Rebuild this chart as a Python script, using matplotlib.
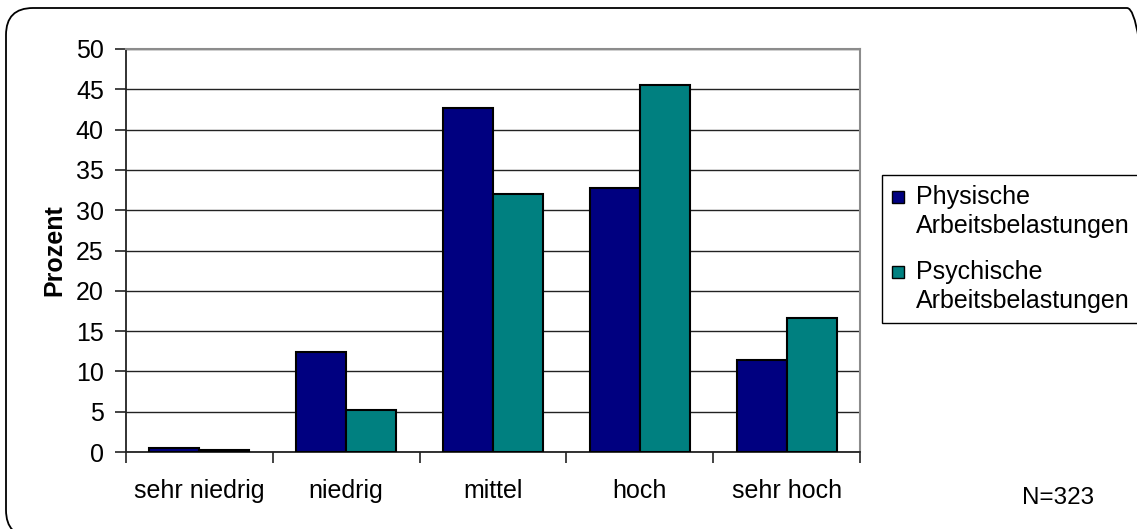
import matplotlib
matplotlib.use("Agg")
import matplotlib.pyplot as plt
from matplotlib.patches import FancyBboxPatch, Rectangle
from matplotlib.transforms import IdentityTransform
import numpy as np

plt.rcParams['font.family'] = ['Liberation Sans', 'DejaVu Sans']

categories = ["sehr niedrig", "niedrig", "mittel", "hoch", "sehr hoch"]
physisch = [0.5, 12.4, 42.7, 32.8, 11.4]
psychisch = [0.3, 5.2, 32.0, 45.5, 16.6]
series_labels = ["Physische\nArbeitsbelastungen", "Psychische\nArbeitsbelastungen"]
colors = ["#000080", "#008080"]
yticks = list(range(0, 51, 5))
note = "N=323"

W, H = 1137, 529
fig = plt.figure(figsize=(W / 100, H / 100), dpi=100)
fig.patch.set_facecolor("white")

# rounded outer frame, in pixel units
fx0, fy_top, fx1, fy_bot = 6, 8, 1154, 537
frame = FancyBboxPatch((fx0, H - fy_bot), fx1 - fx0, fy_bot - fy_top,
                       boxstyle="round,pad=0,rounding_size=27",
                       transform=IdentityTransform(), facecolor="none",
                       edgecolor="black", linewidth=1.3, clip_on=False)
fig.patches.append(frame)

ax = fig.add_axes([126 / W, (H - 452) / H, 734 / W, 403 / H])
x = np.arange(len(categories)) + 0.5
bw = 0.34
ax.bar(x - bw / 2, physisch, bw, color=colors[0], edgecolor="black", linewidth=1.5, zorder=3)
ax.bar(x + bw / 2, psychisch, bw, color=colors[1], edgecolor="black", linewidth=1.5, zorder=3)

ax.set_xlim(0, len(categories))
ax.set_ylim(0, 50)
ax.set_yticks(yticks)
ax.yaxis.grid(True, color="#222222", linewidth=1.0, zorder=0)
ax.set_axisbelow(True)

ax.set_xticks(x)
ax.set_xticklabels(categories, fontsize=18)
ax.set_xticks(np.arange(len(categories) + 1), minor=True)
ax.tick_params(axis="x", which="major", length=0, pad=19.5)
ax.tick_params(axis="x", which="minor", length=8, width=1.2, direction="out", color="#222222")
ax.tick_params(axis="y", length=8, width=1.2, direction="out", pad=8, labelsize=18, color="#222222")

for side in ["top", "right"]:
    ax.spines[side].set_color("#8c8c8c")
    ax.spines[side].set_linewidth(1.5)
for side in ["left", "bottom"]:
    ax.spines[side].set_color("#222222")
    ax.spines[side].set_linewidth(1.3)

ax.set_ylabel("Prozent", fontsize=18, fontweight="bold", labelpad=7)

# legend box
lx0, ly0, lx1, ly1 = 882, 175, 1150, 323
fig.patches.append(Rectangle((lx0 / W, (H - ly1) / H), (lx1 - lx0) / W, (ly1 - ly0) / H,
                             transform=fig.transFigure, facecolor="white",
                             edgecolor="black", linewidth=1.0))
for i, (lab, col) in enumerate(zip(series_labels, colors)):
    cy = 197 + i * 75
    fig.patches.append(Rectangle((892 / W, (H - cy - 6) / H), 12 / W, 12 / H,
                                 transform=fig.transFigure, facecolor=col,
                                 edgecolor="black", linewidth=1.0))
    first, second = lab.split("\n")
    fig.text(916 / W, (H - cy) / H, first, fontsize=18, va="center", ha="left")
    fig.text(916 / W, (H - cy - 29) / H, second, fontsize=18, va="center", ha="left")

fig.text(1058 / W, (H - 498) / H, note, fontsize=17.5, va="center", ha="center")

fig.savefig("out.png", dpi=100)
